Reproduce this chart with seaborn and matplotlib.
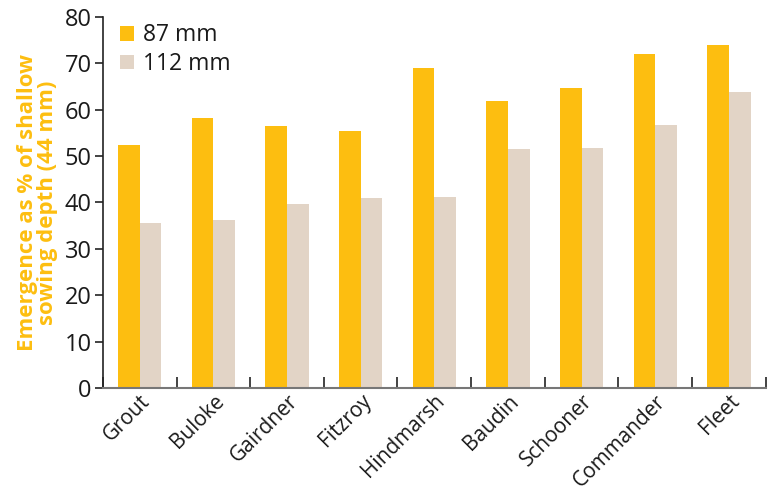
import matplotlib
matplotlib.use("Agg")
import matplotlib.pyplot as plt
import seaborn as sns
import pandas as pd

varieties = ["Grout", "Buloke", "Gairdner", "Fitzroy", "Hindmarsh",
             "Baudin", "Schooner", "Commander", "Fleet"]
depth_87 = [52.4, 58.2, 56.5, 55.4, 69.0, 61.9, 64.7, 72.0, 73.9]
depth_112 = [35.6, 36.3, 39.7, 41.0, 41.2, 51.5, 51.8, 56.7, 63.8]
series = ["87 mm", "112 mm"]
palette = ["#FDBE10", "#E2D4C6"]

df = pd.DataFrame({
    "variety": varieties * 2,
    "value": depth_87 + depth_112,
    "depth": [series[0]] * len(varieties) + [series[1]] * len(varieties),
})

sns.set_style("white")
plt.rcParams["font.family"] = ["Open Sans", "DejaVu Sans"]

fig = plt.figure(figsize=(7.68, 4.94), dpi=100)
ax = fig.add_axes([0.134, 0.2146, 0.863, 0.751])

sns.barplot(data=df, x="variety", y="value", hue="depth", order=varieties,
            hue_order=series, palette=palette, width=0.59, saturation=1,
            linewidth=0, ax=ax)

ax.set_ylim(0, 80)
ax.set_xlim(-0.5, len(varieties) - 0.5)
ax.set_yticks(range(0, 81, 10))
ax.set_xlabel("")
ax.set_ylabel("Emergence as % of shallow\nsowing depth (44 mm)",
              color="#FDBE10", fontsize=16, fontweight="bold", labelpad=5,
              linespacing=0.9)

ax.tick_params(axis="y", labelsize=17, length=6, width=1.2, color="#222222",
               left=True, pad=2, labelcolor="#1a1a1a")
ax.tick_params(axis="x", which="major", length=0, labelsize=15, pad=2,
               labelcolor="#1a1a1a")
plt.setp(ax.get_xticklabels(), rotation=45, ha="right",
         rotation_mode="anchor")
ax.set_xticks([i - 0.5 for i in range(len(varieties) + 1)], minor=True)
ax.tick_params(axis="x", which="minor", direction="in", length=8,
               width=1.2, color="#222222", bottom=True)

for side in ["top", "right"]:
    ax.spines[side].set_visible(False)
ax.spines["left"].set_color("#222222")
ax.spines["left"].set_linewidth(1.2)
ax.spines["bottom"].set_color("#777777")
ax.spines["bottom"].set_linewidth(1.5)

leg = ax.legend(loc="upper left", frameon=False, fontsize=16.5,
                handlelength=0.6, handleheight=0.6, handletextpad=0.4,
                borderaxespad=0.2, labelspacing=0.2,
                bbox_to_anchor=(0.005, 1.02))
for t in leg.get_texts():
    t.set_color("#1a1a1a")

fig.savefig("out.png", dpi=100)
